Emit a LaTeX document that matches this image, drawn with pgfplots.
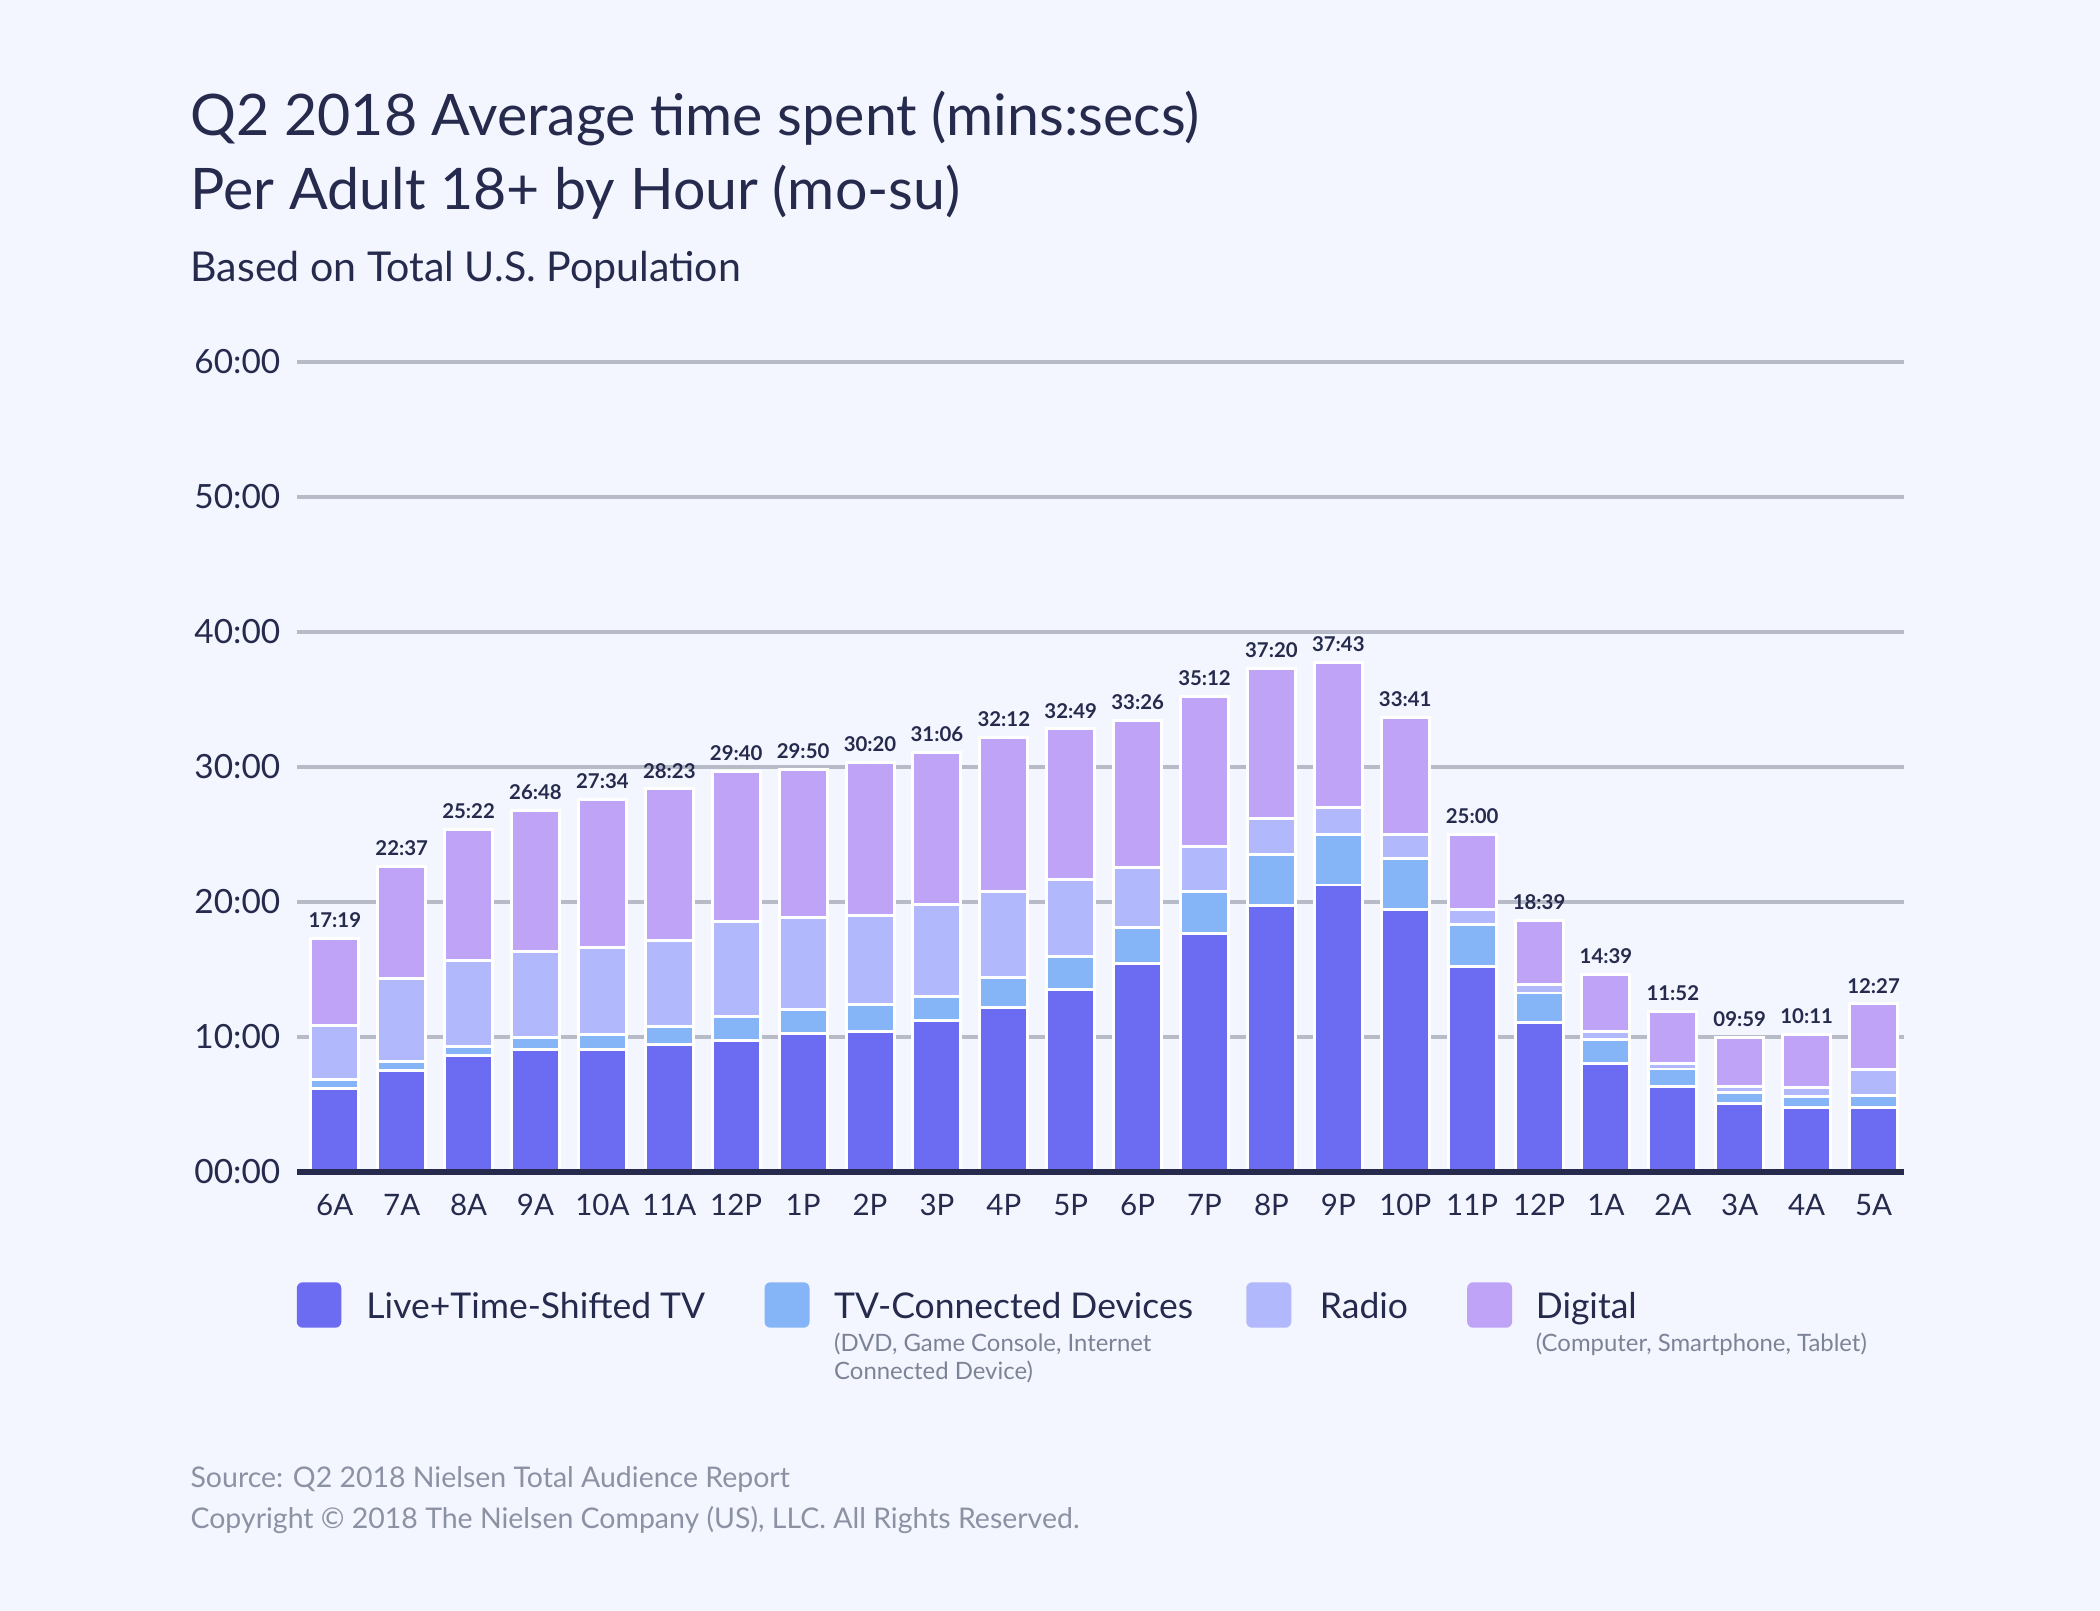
\documentclass[border=0pt]{standalone}
\usepackage{pgfplots}
\pgfplotsset{compat=1.18}
\usepackage{pgfplotstable}
\usepackage{fontspec}
\setmainfont{Lato}
\definecolor{bgc}{HTML}{F3F6FE}
\definecolor{navy}{HTML}{262B4E}
\definecolor{gridc}{HTML}{B7BBC8}
\definecolor{tvc}{HTML}{6C6CF2}
\definecolor{tcd}{HTML}{86B5F7}
\definecolor{rad}{HTML}{B1B8FC}
\definecolor{dig}{HTML}{BFA3F7}
\definecolor{subg}{HTML}{7D8397}
\definecolor{srcg}{HTML}{8C92A4}

\pgfplotstableread{
x tv tvc radio dig tot lab
0 6.21 0.65 3.98 6.48 17.32 17:19
1 7.55 0.65 6.16 8.26 22.62 22:37
2 8.62 0.66 6.36 9.73 25.37 25:22
3 9.08 0.89 6.39 10.44 26.80 26:48
4 9.11 1.10 6.41 10.95 27.57 27:34
5 9.46 1.30 6.36 11.26 28.38 28:23
6 9.73 1.78 7.04 11.12 29.67 29:40
7 10.23 1.79 6.85 10.96 29.83 29:50
8 10.39 2.00 6.60 11.34 30.33 30:20
9 11.25 1.76 6.81 11.28 31.10 31:06
10 12.21 2.21 6.39 11.39 32.20 32:12
11 13.51 2.42 5.75 11.14 32.82 32:49
12 15.48 2.65 4.41 10.89 33.43 33:26
13 17.68 3.07 3.33 11.12 35.20 35:12
14 19.73 3.77 2.66 11.17 37.33 37:20
15 21.26 3.76 1.97 10.73 37.72 37:43
16 19.47 3.75 1.75 8.71 33.68 33:41
17 15.22 3.09 1.10 5.59 25.00 25:00
18 11.06 2.20 0.65 4.74 18.65 18:39
19 8.06 1.73 0.64 4.22 14.65 14:39
20 6.35 1.28 0.44 3.80 11.87 11:52
21 5.09 0.82 0.42 3.65 9.98 09:59
22 4.76 0.86 0.63 3.93 10.18 10:11
23 4.81 0.87 1.92 4.85 12.45 12:27
}\data

\pgfplotsset{
  frame/.style={
    at={(2.97cm,-11.72cm)}, anchor=south west,
    scale only axis, width=16.07cm, height=8.10cm,
    xmin=-0.565, xmax=23.455, ymin=0, ymax=60,
  }
}

\begin{document}
\begin{tikzpicture}
\fill[bgc] (0,0) rectangle (21cm,-16.11cm);
\begin{axis}[
  frame,
  ybar stacked, bar width=0.48cm,
  ytick={0,10,...,60},
  yticklabels={00:00,10:00,20:00,30:00,40:00,50:00,60:00},
  xtick={0,...,23},
  xticklabels={6A,7A,8A,9A,10A,11A,12P,1P,2P,3P,4P,5P,6P,7P,8P,9P,10P,11P,12P,1A,2A,3A,4A,5A},
  ymajorgrids, grid style={gridc, line width=0.9pt},
  axis line style={draw=none}, major tick length=0pt,
  yticklabel style={font=\fontsize{9.5}{11}\selectfont, text=navy, anchor=east, inner sep=0pt, xshift=-0.16cm},
  xticklabel style={font=\fontsize{8.4}{10}\selectfont, text=navy, anchor=base, inner sep=0pt, yshift=-0.43cm},
  clip=false,
]
\addplot[fill=tvc, draw=white, line width=0.85pt] table[x=x,y=tv]{\data};
\addplot[fill=tcd, draw=white, line width=0.85pt] table[x=x,y=tvc]{\data};
\addplot[fill=rad, draw=white, line width=0.85pt] table[x=x,y=radio]{\data};
\addplot[fill=dig, draw=white, line width=0.85pt] table[x=x,y=dig]{\data};
\end{axis}
\begin{axis}[frame, hide axis, clip=false]
\addplot[only marks, mark=*, mark size=0pt, mark options={draw=none, fill=none},
  nodes near coords, point meta=explicit symbolic,
  every node near coord/.append style={font=\bfseries\fontsize{5.8}{7}\selectfont, text=navy, anchor=south, inner sep=0pt, yshift=0.1cm}]
  table[x=x,y=tot,meta=lab]{\data};
\draw[navy, line width=1.5pt] (axis cs:-0.565,0) -- (axis cs:23.455,0);
\end{axis}
\begin{scope}[x=0.01cm,y=-0.01cm]
\node[anchor=base west, inner sep=0pt, text=navy, font=\fontsize{16.3}{19}\selectfont] at (190,136) {Q2 2018 Average time spent (mins:secs)};
\node[anchor=base west, inner sep=0pt, text=navy, font=\fontsize{16.3}{19}\selectfont] at (190,210) {Per Adult 18+ by Hour (mo-su)};
\node[anchor=base west, inner sep=0pt, text=navy, font=\fontsize{11.7}{13}\selectfont] at (190,282) {Based on Total U.S. Population};
\fill[tvc, rounded corners=0.06cm] (297,1283) rectangle (341.5,1328.5);
\fill[tcd, rounded corners=0.06cm] (765,1283) rectangle (810,1328.5);
\fill[rad, rounded corners=0.06cm] (1247,1283) rectangle (1292,1328.5);
\fill[dig, rounded corners=0.06cm] (1468,1283) rectangle (1513,1328.5);
\node[anchor=base west, inner sep=0pt, text=navy, font=\fontsize{10.1}{12}\selectfont] at (366,1319) {Live+Time-Shifted TV};
\node[anchor=base west, inner sep=0pt, text=navy, font=\fontsize{10.1}{12}\selectfont] at (834,1319) {TV-Connected Devices};
\node[anchor=base west, inner sep=0pt, text=navy, font=\fontsize{10.1}{12}\selectfont] at (1320,1319) {Radio};
\node[anchor=base west, inner sep=0pt, text=navy, font=\fontsize{10.1}{12}\selectfont] at (1536,1319) {Digital};
\node[anchor=base west, inner sep=0pt, text=subg, font=\fontsize{6.8}{8}\selectfont] at (834,1352) {(DVD, Game Console, Internet};
\node[anchor=base west, inner sep=0pt, text=subg, font=\fontsize{6.8}{8}\selectfont] at (834,1380) {Connected Device)};
\node[anchor=base west, inner sep=0pt, text=subg, font=\fontsize{6.8}{8}\selectfont] at (1536,1352) {(Computer, Smartphone, Tablet)};
\node[anchor=base west, inner sep=0pt, text=srcg, font=\fontsize{8.1}{10}\selectfont] at (190,1488) {Source: Q2 2018 Nielsen Total Audience Report};
\node[anchor=base west, inner sep=0pt, text=srcg, font=\fontsize{8.1}{10}\selectfont] at (190,1529) {Copyright © 2018 The Nielsen Company (US), LLC. All Rights Reserved.};
\end{scope}
\end{tikzpicture}
\end{document}
